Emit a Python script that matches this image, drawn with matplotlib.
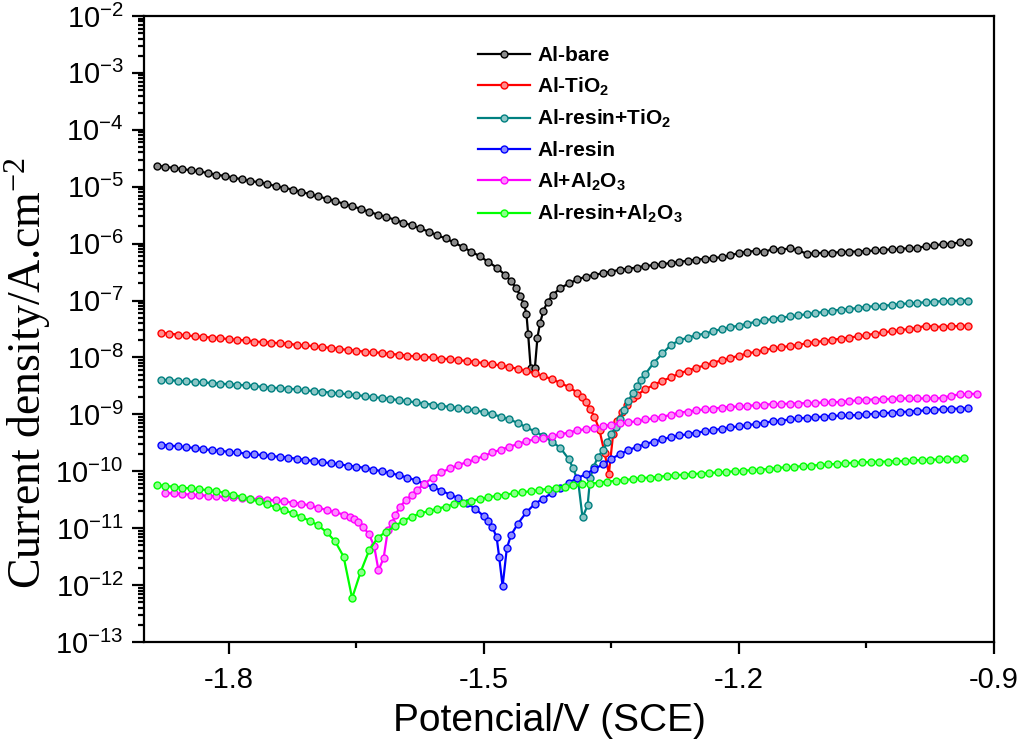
import matplotlib
matplotlib.use("Agg")
import matplotlib.pyplot as plt
from matplotlib.ticker import LogLocator, MultipleLocator, NullFormatter
from matplotlib.colors import to_rgb

plt.rcParams['font.family'] = ['Liberation Sans', 'DejaVu Sans']
plt.rcParams['mathtext.default'] = 'regular'
plt.rcParams['axes.unicode_minus'] = False

# potential (V vs SCE), log10 of current density (A/cm2)
bare = [
    (-1.885, -4.63), (-1.875, -4.65), (-1.865, -4.67), (-1.855, -4.69), (-1.845, -4.71),
    (-1.835, -4.73), (-1.825, -4.76), (-1.815, -4.79), (-1.805, -4.81), (-1.795, -4.84),
    (-1.785, -4.87), (-1.775, -4.90), (-1.765, -4.92), (-1.755, -4.95), (-1.745, -4.99),
    (-1.735, -5.02), (-1.725, -5.05), (-1.715, -5.09), (-1.705, -5.13), (-1.695, -5.17),
    (-1.685, -5.21), (-1.675, -5.25), (-1.665, -5.30), (-1.655, -5.34), (-1.645, -5.39),
    (-1.635, -5.44), (-1.625, -5.49), (-1.615, -5.53), (-1.605, -5.58), (-1.595, -5.63),
    (-1.585, -5.68), (-1.575, -5.73), (-1.565, -5.79), (-1.555, -5.85), (-1.545, -5.91),
    (-1.535, -5.98), (-1.525, -6.06), (-1.515, -6.14), (-1.505, -6.22), (-1.495, -6.32),
    (-1.485, -6.42), (-1.475, -6.55), (-1.468, -6.66), (-1.462, -6.78), (-1.457, -6.92),
    (-1.453, -7.06), (-1.450, -7.23), (-1.448, -7.58), (-1.445, -8.18), (-1.440, -8.18),
    (-1.437, -7.65), (-1.434, -7.40), (-1.430, -7.18), (-1.425, -7.02), (-1.419, -6.90),
    (-1.41, -6.78), (-1.40, -6.70), (-1.39, -6.63), (-1.38, -6.58), (-1.37, -6.55),
    (-1.36, -6.52), (-1.35, -6.49), (-1.34, -6.46), (-1.33, -6.44), (-1.32, -6.42),
    (-1.31, -6.39), (-1.30, -6.38), (-1.29, -6.36), (-1.28, -6.34), (-1.27, -6.32),
    (-1.26, -6.30), (-1.25, -6.28), (-1.24, -6.27), (-1.23, -6.25), (-1.22, -6.24),
    (-1.21, -6.20), (-1.20, -6.17), (-1.19, -6.14), (-1.18, -6.13), (-1.17, -6.15),
    (-1.16, -6.09), (-1.15, -6.11), (-1.14, -6.08), (-1.13, -6.12), (-1.12, -6.18),
    (-1.11, -6.17), (-1.10, -6.16), (-1.09, -6.16), (-1.08, -6.15), (-1.07, -6.14),
    (-1.06, -6.14), (-1.05, -6.13), (-1.04, -6.12), (-1.03, -6.11), (-1.02, -6.10),
    (-1.01, -6.09), (-1.00, -6.08), (-0.99, -6.07), (-0.98, -6.05), (-0.97, -6.03),
    (-0.96, -6.01), (-0.95, -6.00), (-0.94, -5.98), (-0.93, -5.97),
]

tio2 = [
    (-1.88, -7.57), (-1.87, -7.58), (-1.86, -7.60), (-1.85, -7.61), (-1.84, -7.63),
    (-1.83, -7.64), (-1.82, -7.65), (-1.81, -7.66), (-1.80, -7.68), (-1.79, -7.69),
    (-1.78, -7.70), (-1.77, -7.72), (-1.76, -7.73), (-1.75, -7.74), (-1.74, -7.75),
    (-1.73, -7.76), (-1.72, -7.78), (-1.71, -7.79), (-1.70, -7.80), (-1.69, -7.82),
    (-1.68, -7.83), (-1.67, -7.85), (-1.66, -7.87), (-1.65, -7.88), (-1.64, -7.90),
    (-1.63, -7.91), (-1.62, -7.92), (-1.61, -7.94), (-1.60, -7.95), (-1.59, -7.97),
    (-1.58, -7.98), (-1.57, -7.99), (-1.56, -8.00), (-1.55, -8.02), (-1.54, -8.03),
    (-1.53, -8.05), (-1.52, -8.06), (-1.51, -8.08), (-1.50, -8.10), (-1.49, -8.12),
    (-1.48, -8.14), (-1.47, -8.17), (-1.46, -8.20), (-1.45, -8.24), (-1.44, -8.28),
    (-1.43, -8.33), (-1.42, -8.38), (-1.41, -8.45), (-1.40, -8.52), (-1.39, -8.62),
    (-1.385, -8.70), (-1.38, -8.79), (-1.375, -8.91), (-1.37, -9.04), (-1.364, -9.28),
    (-1.358, -9.68), (-1.353, -10.04), (-1.348, -9.35), (-1.344, -9.11), (-1.338, -8.96),
    (-1.332, -8.84), (-1.325, -8.72), (-1.32, -8.66), (-1.31, -8.56), (-1.30, -8.48),
    (-1.29, -8.41), (-1.28, -8.35), (-1.27, -8.28), (-1.26, -8.23), (-1.25, -8.18),
    (-1.24, -8.14), (-1.23, -8.09), (-1.22, -8.05), (-1.21, -8.01), (-1.20, -7.97),
    (-1.19, -7.93), (-1.18, -7.90), (-1.17, -7.87), (-1.16, -7.84), (-1.15, -7.82),
    (-1.14, -7.80), (-1.13, -7.78), (-1.12, -7.75), (-1.11, -7.73), (-1.10, -7.71),
    (-1.09, -7.69), (-1.08, -7.67), (-1.07, -7.65), (-1.06, -7.63), (-1.05, -7.61),
    (-1.04, -7.58), (-1.03, -7.56), (-1.02, -7.54), (-1.01, -7.52), (-1.00, -7.50),
    (-0.99, -7.48), (-0.98, -7.44), (-0.97, -7.46), (-0.96, -7.46), (-0.95, -7.45),
    (-0.94, -7.45), (-0.93, -7.44),
]

resin_tio2 = [
    (-1.88, -8.39), (-1.87, -8.40), (-1.86, -8.41), (-1.85, -8.42), (-1.84, -8.43),
    (-1.83, -8.44), (-1.82, -8.45), (-1.81, -8.46), (-1.80, -8.47), (-1.79, -8.48),
    (-1.78, -8.49), (-1.77, -8.50), (-1.76, -8.52), (-1.75, -8.53), (-1.74, -8.54),
    (-1.73, -8.55), (-1.72, -8.56), (-1.71, -8.58), (-1.70, -8.59), (-1.69, -8.60),
    (-1.68, -8.62), (-1.67, -8.63), (-1.66, -8.65), (-1.65, -8.66), (-1.64, -8.68),
    (-1.63, -8.70), (-1.62, -8.71), (-1.61, -8.73), (-1.60, -8.75), (-1.59, -8.77),
    (-1.58, -8.79), (-1.57, -8.81), (-1.56, -8.83), (-1.55, -8.85), (-1.54, -8.87),
    (-1.53, -8.89), (-1.52, -8.91), (-1.51, -8.93), (-1.50, -8.96), (-1.49, -9.00),
    (-1.48, -9.04), (-1.47, -9.09), (-1.46, -9.15), (-1.45, -9.23), (-1.44, -9.30),
    (-1.43, -9.38), (-1.42, -9.48), (-1.41, -9.59), (-1.40, -9.79), (-1.395, -9.95),
    (-1.389, -10.19), (-1.384, -10.81), (-1.378, -10.60), (-1.375, -10.12), (-1.371, -9.93),
    (-1.366, -9.75), (-1.36, -9.63), (-1.355, -9.49), (-1.35, -9.35), (-1.345, -9.22),
    (-1.34, -9.08), (-1.335, -8.92), (-1.33, -8.77), (-1.325, -8.63), (-1.32, -8.50),
    (-1.315, -8.39), (-1.31, -8.29), (-1.30, -8.09), (-1.29, -7.93), (-1.28, -7.78),
    (-1.27, -7.70), (-1.26, -7.65), (-1.25, -7.61), (-1.24, -7.58), (-1.23, -7.54),
    (-1.22, -7.50), (-1.21, -7.47), (-1.20, -7.44), (-1.19, -7.41), (-1.18, -7.37),
    (-1.17, -7.35), (-1.16, -7.32), (-1.15, -7.30), (-1.14, -7.28), (-1.13, -7.26),
    (-1.12, -7.24), (-1.11, -7.22), (-1.10, -7.20), (-1.09, -7.18), (-1.08, -7.16),
    (-1.07, -7.15), (-1.06, -7.13), (-1.05, -7.11), (-1.04, -7.10), (-1.03, -7.09),
    (-1.02, -7.08), (-1.01, -7.06), (-1.00, -7.05), (-0.99, -7.04), (-0.98, -7.03),
    (-0.97, -7.02), (-0.96, -7.01), (-0.95, -7.01), (-0.94, -7.00), (-0.93, -7.00),
]

resin = [
    (-1.88, -9.53), (-1.87, -9.55), (-1.86, -9.56), (-1.85, -9.58), (-1.84, -9.59),
    (-1.83, -9.61), (-1.82, -9.63), (-1.81, -9.64), (-1.80, -9.66), (-1.79, -9.67),
    (-1.78, -9.69), (-1.77, -9.70), (-1.76, -9.72), (-1.75, -9.73), (-1.74, -9.75),
    (-1.73, -9.76), (-1.72, -9.78), (-1.71, -9.80), (-1.70, -9.82), (-1.69, -9.84),
    (-1.68, -9.86), (-1.67, -9.88), (-1.66, -9.90), (-1.65, -9.92), (-1.64, -9.94),
    (-1.63, -9.97), (-1.62, -10.00), (-1.61, -10.03), (-1.60, -10.07), (-1.59, -10.11),
    (-1.58, -10.16), (-1.57, -10.22), (-1.56, -10.28), (-1.55, -10.34), (-1.54, -10.41),
    (-1.53, -10.47), (-1.52, -10.56), (-1.51, -10.66), (-1.50, -10.79), (-1.495, -10.88),
    (-1.49, -10.98), (-1.485, -11.16), (-1.482, -11.51), (-1.478, -12.02), (-1.473, -11.35),
    (-1.468, -11.12), (-1.46, -10.92), (-1.45, -10.72), (-1.44, -10.57), (-1.43, -10.48),
    (-1.42, -10.38), (-1.41, -10.29), (-1.40, -10.20), (-1.39, -10.12), (-1.38, -10.05),
    (-1.37, -9.96), (-1.36, -9.88), (-1.35, -9.78), (-1.34, -9.70), (-1.33, -9.63),
    (-1.32, -9.57), (-1.31, -9.52), (-1.30, -9.48), (-1.29, -9.44), (-1.28, -9.40),
    (-1.27, -9.37), (-1.26, -9.35), (-1.25, -9.32), (-1.24, -9.30), (-1.23, -9.28),
    (-1.22, -9.25), (-1.21, -9.23), (-1.20, -9.21), (-1.19, -9.19), (-1.18, -9.17),
    (-1.17, -9.15), (-1.16, -9.12), (-1.15, -9.11), (-1.14, -9.09), (-1.13, -9.07),
    (-1.12, -9.06), (-1.11, -9.05), (-1.10, -9.04), (-1.09, -9.03), (-1.08, -9.02),
    (-1.07, -9.02), (-1.06, -9.01), (-1.05, -9.00), (-1.04, -8.99), (-1.03, -8.98),
    (-1.02, -8.97), (-1.01, -8.96), (-1.00, -8.95), (-0.99, -8.94), (-0.98, -8.93),
    (-0.97, -8.92), (-0.96, -8.91), (-0.95, -8.90), (-0.94, -8.90), (-0.93, -8.89),
]

al2o3 = [
    (-1.875, -10.38), (-1.865, -10.39), (-1.855, -10.40), (-1.845, -10.41), (-1.835, -10.42),
    (-1.825, -10.43), (-1.815, -10.44), (-1.805, -10.45), (-1.795, -10.46), (-1.785, -10.47),
    (-1.775, -10.48), (-1.765, -10.49), (-1.755, -10.50), (-1.745, -10.51), (-1.735, -10.53),
    (-1.725, -10.55), (-1.715, -10.57), (-1.705, -10.60), (-1.695, -10.64), (-1.685, -10.68),
    (-1.675, -10.72), (-1.665, -10.76), (-1.658, -10.80), (-1.653, -10.84), (-1.648, -10.89),
    (-1.642, -10.98), (-1.635, -11.11), (-1.629, -11.32), (-1.624, -11.74), (-1.618, -11.53),
    (-1.613, -11.04), (-1.608, -10.91), (-1.604, -10.77), (-1.599, -10.63), (-1.592, -10.51),
    (-1.585, -10.42), (-1.579, -10.33), (-1.57, -10.22), (-1.56, -10.11), (-1.55, -10.02),
    (-1.54, -9.95), (-1.53, -9.89), (-1.52, -9.84), (-1.51, -9.79), (-1.50, -9.73),
    (-1.49, -9.67), (-1.48, -9.62), (-1.47, -9.57), (-1.46, -9.52), (-1.45, -9.47),
    (-1.44, -9.44), (-1.43, -9.41), (-1.42, -9.38), (-1.41, -9.35), (-1.40, -9.32),
    (-1.39, -9.28), (-1.38, -9.26), (-1.37, -9.24), (-1.36, -9.21), (-1.35, -9.18),
    (-1.34, -9.16), (-1.33, -9.14), (-1.32, -9.12), (-1.31, -9.09), (-1.30, -9.07),
    (-1.29, -9.04), (-1.28, -9.01), (-1.27, -8.97), (-1.26, -8.95), (-1.25, -8.93),
    (-1.24, -8.91), (-1.23, -8.90), (-1.22, -8.88), (-1.21, -8.87), (-1.20, -8.86),
    (-1.19, -8.85), (-1.18, -8.84), (-1.17, -8.83), (-1.16, -8.82), (-1.15, -8.82),
    (-1.14, -8.81), (-1.13, -8.81), (-1.12, -8.80), (-1.11, -8.80), (-1.10, -8.79),
    (-1.09, -8.79), (-1.08, -8.78), (-1.07, -8.77), (-1.06, -8.75), (-1.05, -8.74),
    (-1.04, -8.74), (-1.03, -8.73), (-1.02, -8.73), (-1.01, -8.72), (-1.00, -8.72),
    (-0.99, -8.72), (-0.98, -8.72), (-0.97, -8.72), (-0.96, -8.71), (-0.95, -8.67),
    (-0.94, -8.65), (-0.93, -8.64), (-0.92, -8.64),
]

resin_al2o3 = [
    (-1.885, -10.24), (-1.875, -10.26), (-1.865, -10.27), (-1.855, -10.29), (-1.845, -10.30),
    (-1.835, -10.32), (-1.825, -10.33), (-1.815, -10.35), (-1.805, -10.38), (-1.795, -10.41),
    (-1.785, -10.45), (-1.775, -10.49), (-1.765, -10.53), (-1.755, -10.58), (-1.745, -10.63),
    (-1.735, -10.68), (-1.725, -10.74), (-1.715, -10.80), (-1.705, -10.87), (-1.695, -10.95),
    (-1.685, -11.07), (-1.675, -11.23), (-1.665, -11.50), (-1.655, -12.23), (-1.645, -11.77),
    (-1.635, -11.39), (-1.625, -11.17), (-1.615, -11.06), (-1.605, -10.97), (-1.595, -10.87),
    (-1.585, -10.80), (-1.575, -10.74), (-1.565, -10.70), (-1.555, -10.66), (-1.545, -10.62),
    (-1.535, -10.58), (-1.525, -10.55), (-1.515, -10.52), (-1.505, -10.49), (-1.495, -10.46),
    (-1.485, -10.43), (-1.475, -10.41), (-1.465, -10.39), (-1.455, -10.37), (-1.445, -10.35),
    (-1.435, -10.33), (-1.425, -10.31), (-1.415, -10.29), (-1.405, -10.27), (-1.395, -10.25),
    (-1.385, -10.23), (-1.375, -10.22), (-1.365, -10.20), (-1.355, -10.18), (-1.345, -10.17),
    (-1.335, -10.15), (-1.325, -10.14), (-1.315, -10.12), (-1.305, -10.11), (-1.295, -10.10),
    (-1.285, -10.08), (-1.275, -10.07), (-1.265, -10.06), (-1.255, -10.05), (-1.245, -10.04),
    (-1.235, -10.03), (-1.225, -10.02), (-1.215, -10.01), (-1.205, -10.00), (-1.195, -9.99),
    (-1.185, -9.98), (-1.175, -9.97), (-1.165, -9.96), (-1.155, -9.94), (-1.145, -9.93),
    (-1.135, -9.92), (-1.125, -9.91), (-1.115, -9.90), (-1.105, -9.89), (-1.095, -9.88),
    (-1.085, -9.87), (-1.075, -9.86), (-1.065, -9.85), (-1.055, -9.84), (-1.045, -9.84),
    (-1.035, -9.83), (-1.025, -9.83), (-1.015, -9.82), (-1.005, -9.82), (-0.995, -9.81),
    (-0.985, -9.80), (-0.975, -9.80), (-0.965, -9.79), (-0.955, -9.78), (-0.945, -9.78),
    (-0.935, -9.77),
]

labels = ['Al-bare', 'Al-TiO$_2$', 'Al-resin+TiO$_2$', 'Al-resin',
          'Al+Al$_2$O$_3$', 'Al-resin+Al$_2$O$_3$']
colors = ['#000000', '#ff0000', '#008080', '#0000ff', '#ff00ff', '#00ff00']
series = [bare, tio2, resin_tio2, resin, al2o3, resin_al2o3]


def lighter(c, f=0.55):
    r, g, b = to_rgb(c)
    return (r + (1 - r) * f, g + (1 - g) * f, b + (1 - b) * f)


fig = plt.figure(figsize=(10.2, 7.46), dpi=100)
ax = fig.add_axes([0.141, 0.1394, 0.8335, 0.8392])

for data, lab, col in zip(series, labels, colors):
    e, li = zip(*data)
    ax.plot(e, [10 ** v for v in li], color=col, lw=1.6, marker='o', ms=5.0,
            mfc=lighter(col), mec=col, mew=1.0, label=lab)

ax.set_yscale('log')
ax.set_xlim(-1.9, -0.9)
ax.set_ylim(1e-13, 1e-2)

ax.set_xticks([-1.8, -1.5, -1.2, -0.9])
ax.xaxis.set_minor_locator(MultipleLocator(0.15))
ax.yaxis.set_major_locator(LogLocator(base=10, numticks=20))
ax.yaxis.set_minor_locator(LogLocator(base=10, subs=range(2, 10), numticks=20))
ax.yaxis.set_minor_formatter(NullFormatter())

ax.tick_params(which='both', direction='out', top=False, right=False, width=1.6)
ax.tick_params(which='major', length=8.5, labelsize=21)
ax.tick_params(axis='x', which='major', pad=9)
ax.tick_params(axis='y', which='major', pad=6)
ax.tick_params(which='minor', length=4.5)
for s in ax.spines.values():
    s.set_linewidth(1.6)

ax.set_xlabel('Potencial/V (SCE)', fontsize=28, va='top')
ax.xaxis.set_label_coords(0.477, -0.0975)
ax.set_ylabel('Current density/A.cm$^{-2}$', fontsize=33,
              family=['Liberation Serif', 'DejaVu Serif'])
ax.yaxis.set_label_coords(-0.107, 0.43)

ax.legend(loc='upper left', bbox_to_anchor=(0.393, 0.952), frameon=False,
          prop={'weight': 'bold', 'size': 15}, numpoints=1, handlelength=2.5,
          handletextpad=0.35, labelspacing=0.5, borderaxespad=0, borderpad=0)

fig.savefig('out.png', dpi=100)
